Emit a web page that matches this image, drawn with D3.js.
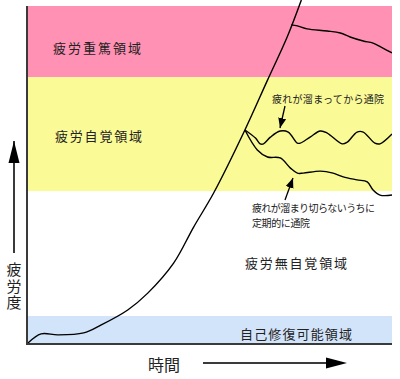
<!DOCTYPE html>
<html><head><meta charset="utf-8">
<script src="https://cdn.jsdelivr.net/npm/d3@7"></script>
<style>html,body{margin:0;padding:0;background:#fff}svg{display:block}</style>
</head><body>
<script>
// ---- data ----
const bandNames = ["疲労重篤領域", "疲労自覚領域", "疲労無自覚領域", "自己修復可能領域"];
const bandLower = [78.9, 45.1, 8.0, 0];
const bandUpper = [100, 78.9, 45.1, 8.0];

const mainTime    = [0, 3.6, 8.2, 15.3, 20.0, 27.4, 32.9, 40.0, 45.5, 51.0, 59.2, 65.8, 71.2, 75.1];
const mainFatigue = [0, 2.7, 2.4, 3.0, 5.3, 9.8, 14.8, 23.7, 34.4, 44.5, 62.3, 78.0, 90.8, 101.8];

const heavyTime    = [72.3, 74.0, 76.7, 82.2, 85.8, 88.5, 92.1, 94.8, 97.5, 100];
const heavyFatigue = [94.4, 94.1, 93.2, 92.6, 92.0, 90.8, 89.6, 89.0, 87.5, 86.1];

const lateTime    = [59.6, 62.5, 63.8, 64.7, 66.6, 69.3, 71.5, 74.0, 74.8, 77.5, 80.3, 82.2, 86.3, 87.7, 90.4, 92.1, 95.3, 96.7, 100];
const lateFatigue = [63.2, 60.8, 59.1, 59.1, 61.1, 62.9, 62.6, 59.3, 59.3, 61.1, 62.9, 62.3, 59.1, 59.6, 62.6, 62.6, 59.3, 59.1, 62.0];

const earlyTime    = [59.6, 63.0, 65.8, 69.3, 72.1, 74.0, 75.6, 80.3, 83.8, 86.6, 90.4, 93.2, 94.8, 96.7, 100];
const earlyFatigue = [63.2, 57.3, 55.2, 54.9, 51.9, 50.4, 50.4, 51.0, 50.4, 49.3, 48.4, 47.8, 45.4, 43.9, 43.9];

const noteLate  = ["疲れが溜まってから通院"];
const noteEarly = ["疲れが溜まり切らないうちに", "定期的に通院"];
const xLabel = "時間";
const yLabel = "疲労度";

// ---- drawing ----
const W = 400, H = 379;
const svg = d3.select("body").append("svg").attr("width", W).attr("height", H);
const x = d3.scaleLinear().domain([0, 100]).range([28, 392]);
const y = d3.scaleLinear().domain([0, 100]).range([343, 6]);
const FONT = "'Noto Sans CJK JP', 'Noto Sans', sans-serif";
const bandColors = ["#ff91b4", "#fafa96", "#ffffff", "#d2e4fa"];

svg.selectAll("rect.band").data(bandNames).join("rect")
  .attr("class", "band")
  .attr("x", x(0)).attr("width", x(100) - x(0))
  .attr("y", (d, i) => y(bandUpper[i]))
  .attr("height", (d, i) => y(bandLower[i]) - y(bandUpper[i]))
  .attr("fill", (d, i) => bandColors[i]);

// band labels
const labelPos = [[53, 47, 88], [55, 135, 87], [245, 262, 102], [240, 333, 112]];
svg.selectAll("text.band").data(bandNames).join("text")
  .attr("class", "band")
  .attr("x", (d, i) => labelPos[i][0]).attr("y", (d, i) => labelPos[i][1])
  .attr("dominant-baseline", "central")
  .attr("font-family", FONT).attr("font-size", 13).attr("fill", "#222")
  .attr("textLength", (d, i) => labelPos[i][2]).attr("lengthAdjust", "spacing")
  .text(d => d);

// curves
const line = d3.line().x(d => x(d[0])).y(d => y(d[1])).curve(d3.curveCatmullRom);
const series = [
  d3.zip(mainTime, mainFatigue),
  d3.zip(heavyTime, heavyFatigue),
  d3.zip(lateTime, lateFatigue),
  d3.zip(earlyTime, earlyFatigue)
];
svg.append("clipPath").attr("id", "clip").append("rect")
  .attr("x", 0).attr("y", 0).attr("width", x(100)).attr("height", H);
svg.selectAll("path.curve").data(series).join("path")
  .attr("class", "curve")
  .attr("clip-path", "url(#clip)")
  .attr("d", line).attr("fill", "none").attr("stroke", "#000").attr("stroke-width", 1.4);

// axes
svg.append("line").attr("x1", 27).attr("x2", 27).attr("y1", y(100)).attr("y2", 344.5)
  .attr("stroke", "#3a3a3a").attr("stroke-width", 2);
svg.append("line").attr("x1", 26).attr("x2", x(100)).attr("y1", 344).attr("y2", 344)
  .attr("stroke", "#3a3a3a").attr("stroke-width", 2);

// arrow marker
svg.append("defs").append("marker").attr("id", "ah")
  .attr("viewBox", "0 0 10 10").attr("refX", 10).attr("refY", 5)
  .attr("markerWidth", 10).attr("markerHeight", 10).attr("markerUnits", "userSpaceOnUse")
  .attr("orient", "auto")
  .append("path").attr("d", "M0,1 L10,5 L0,9 Z").attr("fill", "#000");

// annotation arrows
svg.append("line").attr("x1", 285).attr("y1", 106).attr("x2", 280).attr("y2", 128)
  .attr("stroke", "#000").attr("stroke-width", 1.3).attr("marker-end", "url(#ah)");
svg.append("line").attr("x1", 285).attr("y1", 200).attr("x2", 293).attr("y2", 178)
  .attr("stroke", "#000").attr("stroke-width", 1.3).attr("marker-end", "url(#ah)");

// annotation texts
svg.append("text").attr("x", 272).attr("y", 98).attr("dominant-baseline", "central")
  .attr("font-family", FONT).attr("font-size", 10).attr("fill", "#222")
  .attr("textLength", 112).attr("lengthAdjust", "spacing").text(noteLate[0]);
svg.append("text").attr("x", 252).attr("y", 207).attr("dominant-baseline", "central")
  .attr("font-family", FONT).attr("font-size", 10).attr("fill", "#222")
  .attr("textLength", 123).attr("lengthAdjust", "spacing").text(noteEarly[0]);
svg.append("text").attr("x", 252).attr("y", 222).attr("dominant-baseline", "central")
  .attr("font-family", FONT).attr("font-size", 10).attr("fill", "#222")
  .attr("textLength", 58).attr("lengthAdjust", "spacing").text(noteEarly[1]);

// y-axis title with arrow
svg.append("line").attr("x1", 14).attr("x2", 14).attr("y1", 253).attr("y2", 141)
  .attr("stroke", "#3a3a3a").attr("stroke-width", 2);
svg.append("path").attr("d", "M14,141 L8.5,163 L19.5,163 Z").attr("fill", "#000");
svg.append("text")
  .attr("x", 14).attr("y", 262)
  .attr("writing-mode", "vertical-rl")
  .attr("style", "writing-mode: vertical-rl; text-orientation: upright;")
  .attr("letter-spacing", 1.5)
  .attr("font-family", FONT).attr("font-size", 15).attr("fill", "#222").text(yLabel);

// x-axis title with arrow
svg.append("text").attr("x", 164).attr("y", 364).attr("text-anchor", "middle")
  .attr("dominant-baseline", "central")
  .attr("font-family", FONT).attr("font-size", 16).attr("fill", "#222").text(xLabel);
svg.append("line").attr("x1", 203).attr("x2", 330).attr("y1", 363).attr("y2", 363)
  .attr("stroke", "#3a3a3a").attr("stroke-width", 2);
svg.append("path").attr("d", "M347,363 L326,357.5 L326,368.5 Z").attr("fill", "#000");
</script>
</body></html>
